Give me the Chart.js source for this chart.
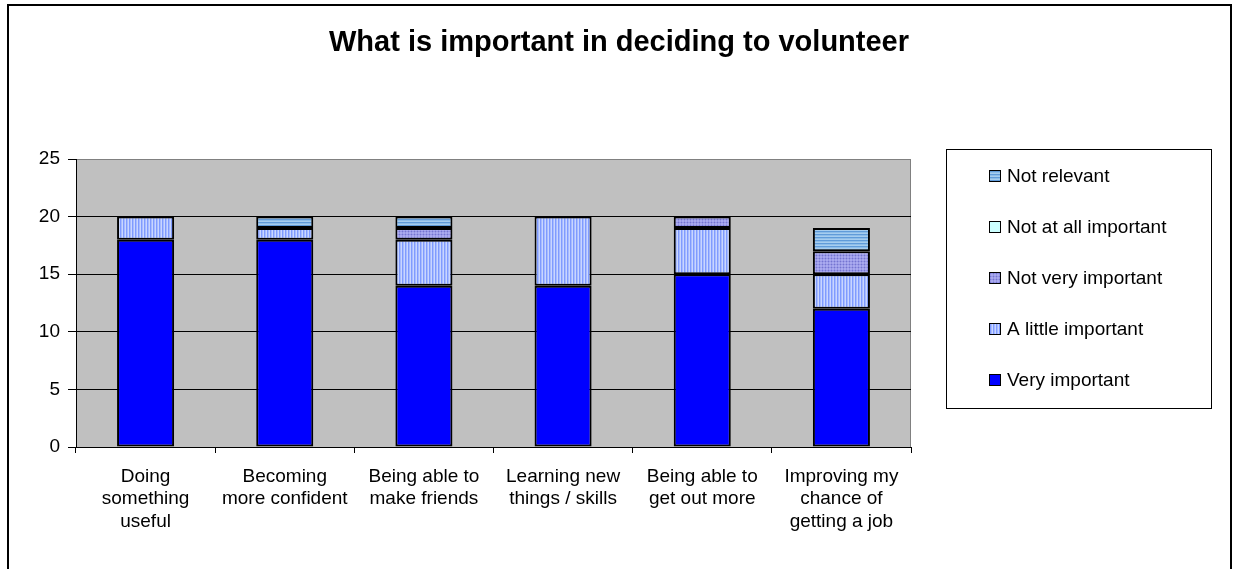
<!DOCTYPE html>
<html>
<head>
<meta charset="utf-8">
<title>What is important in deciding to volunteer</title>
<script src="https://cdn.jsdelivr.net/npm/chart.js@4/dist/chart.umd.min.js"></script>
<style>
  html, body { margin: 0; padding: 0; background: #fff; }
  #chart { display: block; }
</style>
</head>
<body>
<canvas id="chart" width="1238" height="569"></canvas>
<script>
// Datos de la encuesta
const categorias = [
  ['Doing', 'something', 'useful'],
  ['Becoming', 'more confident'],
  ['Being able to', 'make friends'],
  ['Learning new', 'things / skills'],
  ['Being able to', 'get out more'],
  ['Improving my', 'chance of', 'getting a job']
];
const muyImportante     = [18, 18, 14, 14, 15, 12];
const pocoImportante    = [2, 1, 4, 6, 4, 3];
const nadaMuyImportante = [0, 0, 1, 0, 1, 2];
const nadaImportante    = [0, 0, 0, 0, 0, 0];
const noRelevante       = [0, 1, 1, 0, 0, 2];
const ticksY = [0, 5, 10, 15, 20, 25];

const TITULO = 'What is important in deciding to volunteer';
const FUENTE = '"Liberation Sans", Arial, sans-serif';

// Tramas de relleno tipo Excel
function trama(w, h, pintar) {
  const c = document.createElement('canvas');
  c.width = w; c.height = h;
  const g = c.getContext('2d');
  pintar(g);
  return g.createPattern(c, 'repeat');
}
const ctxBase = document.getElementById('chart').getContext('2d');
const rayasVerticales = trama(3, 1, g => {
  g.fillStyle = '#c9d6ff'; g.fillRect(0, 0, 3, 1);
  g.fillStyle = '#7f9bff'; g.fillRect(0, 0, 1, 1);
  g.fillStyle = '#a7bbff'; g.fillRect(1, 0, 1, 1);
});
const puntos = trama(3, 3, g => {
  g.fillStyle = '#a9a9ef'; g.fillRect(0, 0, 3, 3);
  g.fillStyle = '#9595e3'; g.fillRect(0, 0, 3, 1); g.fillRect(0, 0, 1, 3);
  g.fillStyle = '#7474d2'; g.fillRect(0, 0, 1, 1);
});
const rayasHorizontales = trama(1, 3, g => {
  g.fillStyle = '#a6cdef'; g.fillRect(0, 0, 1, 3);
  g.fillStyle = '#609bd9'; g.fillRect(0, 0, 1, 1);
  g.fillStyle = '#8dbde9'; g.fillRect(0, 1, 1, 1);
});

// Fondo gris del área de trazado, marco exterior, título y leyenda propia
const decorado = {
  id: 'decorado',
  beforeDraw(chart) {
    const { ctx, chartArea: a } = chart;
    ctx.save();
    ctx.fillStyle = '#fff';
    ctx.fillRect(0, 0, chart.width, chart.height);
    ctx.fillStyle = '#c0c0c0';
    ctx.fillRect(a.left, a.top, a.right - a.left, a.bottom - a.top);
    ctx.strokeStyle = '#808080';
    ctx.lineWidth = 1;
    ctx.strokeRect(a.left + 0.5, a.top + 0.5, a.right - a.left - 1, a.bottom - a.top);
    ctx.restore();
  },
  afterDraw(chart) {
    const { ctx } = chart;
    ctx.save();
    // marco del gráfico
    ctx.strokeStyle = '#000';
    ctx.lineWidth = 2;
    ctx.strokeRect(8, 5, 1223, 600);

    // título
    ctx.fillStyle = '#000';
    ctx.font = 'bold 29px ' + FUENTE;
    ctx.textAlign = 'center';
    ctx.textBaseline = 'middle';
    ctx.fillText(TITULO, 619, 43);

    // leyenda (orden inverso, como la pila)
    ctx.lineWidth = 1;
    ctx.strokeRect(946.5, 149.5, 265, 259);
    ctx.font = '19px ' + FUENTE;
    ctx.textAlign = 'left';
    const sets = chart.data.datasets.slice().reverse();
    sets.forEach((ds, i) => {
      const y = 176 + i * 51;
      ctx.fillStyle = ds.backgroundColor;
      ctx.fillRect(989, y - 5, 11, 11);
      ctx.strokeStyle = '#000';
      ctx.strokeRect(989.5, y - 5.5, 11, 11);
      ctx.fillStyle = '#000';
      ctx.fillText(ds.label, 1007, y + 1);
    });
    ctx.restore();
  }
};

document.addEventListener('DOMContentLoaded', () => {
  const serie = (label, data, fondo, borde = 2) => ({
    label, data,
    backgroundColor: fondo,
    borderColor: '#000',
    borderWidth: borde,
    borderSkipped: false,
    barPercentage: 0.41,
    categoryPercentage: 1
  });

  new Chart(ctxBase, {
    type: 'bar',
    data: {
      labels: categorias,
      datasets: [
        serie('Very important', muyImportante, '#0000ff'),
        serie('A little important', pocoImportante, rayasVerticales),
        serie('Not very important', nadaMuyImportante, puntos),
        serie('Not at all important', nadaImportante, '#ccffff', 0),
        serie('Not relevant', noRelevante, rayasHorizontales)
      ]
    },
    options: {
      responsive: false,
      animation: false,
      layout: { padding: { top: 159, left: 20, right: 327, bottom: 0 } },
      plugins: {
        legend: { display: false },
        title: { display: false },
        tooltip: { enabled: false }
      },
      scales: {
        x: {
          stacked: true,
          afterFit: s => { s.height = 122; },
          grid: {
            offset: true, drawOnChartArea: false,
            tickLength: 6, color: '#000', lineWidth: 1
          },
          border: { color: '#000', width: 1 },
          ticks: {
            color: '#000', maxRotation: 0, autoSkip: false, padding: 12,
            font: { family: FUENTE, size: 19, lineHeight: 1.2 }
          }
        },
        y: {
          stacked: true,
          min: 0, max: 25,
          afterFit: s => { s.width = 56; },
          afterBuildTicks: s => { s.ticks = ticksY.map(v => ({ value: v })); },
          grid: {
            color: c => (c.tick && c.tick.value === 25) ? '#808080' : '#000',
            tickColor: '#000',
            tickLength: 8, lineWidth: 1
          },
          border: { color: '#000', width: 1 },
          ticks: {
            color: '#000', padding: 8,
            font: { family: FUENTE, size: 19 }
          }
        }
      }
    },
    plugins: [decorado]
  });
});
</script>
</body>
</html>
